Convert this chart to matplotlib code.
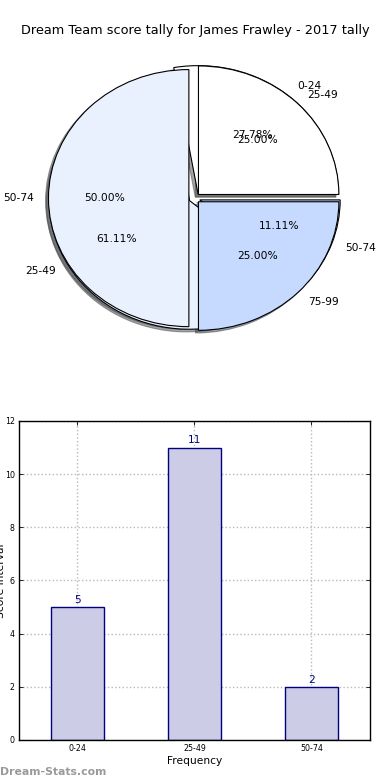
#!/usr/bin/env python3
"""Dream Team score tally: overlaid pies plus interval bar chart."""

import matplotlib

matplotlib.use("Agg")
import matplotlib.pyplot as plt


TITLE = "Dream Team score tally for James Frawley - 2017 tally"

# first pie: counts per score interval
PIE1_LABELS = ["0-24", "25-49", "50-74"]
PIE1_VALUES = [5, 11, 2]

# second pie drawn on top
PIE2_LABELS = ["25-49", "50-74", "75-99"]
PIE2_VALUES = [25, 50, 25]

PIE_COLORS = ["#ffffff", "#eaf1fe", "#c6d9ff"]

BAR_LABELS = ["0-24", "25-49", "50-74"]
BAR_VALUES = [5, 11, 2]
Y_TICKS = [0, 2, 4, 6, 8, 10, 12]


def draw_pie(ax, values, labels):
    ax.pie(
        values,
        labels=labels,
        colors=PIE_COLORS,
        explode=[0.04] * len(values),
        autopct="%1.2f%%",
        shadow={"ox": -0.015, "oy": -0.015},
        wedgeprops={"edgecolor": "black", "linewidth": 0.8},
        textprops={"fontsize": 7.7},
    )


def main():
    fig = plt.figure(figsize=(3.9, 7.8), dpi=100)

    ax_pie = fig.add_axes([0.0487, 0.54, 0.9, 0.412])
    draw_pie(ax_pie, PIE1_VALUES, PIE1_LABELS)
    draw_pie(ax_pie, PIE2_VALUES, PIE2_LABELS)
    ax_pie.set_aspect("auto")
    ax_pie.set_xlim(-1.25, 1.25)
    ax_pie.set_ylim(-1.25, 1.25)
    ax_pie.axis("off")

    fig.text(0.5, 1 - 34 / 780, TITLE, ha="center", va="baseline", fontsize=9.3)

    ax = fig.add_axes([0.0487, 0.0513, 0.9, 0.409])
    xs = list(range(len(BAR_VALUES)))
    bars = ax.bar(xs, BAR_VALUES, width=0.45, color="#ccccE6",
                  edgecolor="#000080", linewidth=1.0, zorder=2)
    for rect, val in zip(bars, BAR_VALUES):
        ax.annotate(str(val), (rect.get_x() + rect.get_width() / 2, rect.get_height()),
                    xytext=(0, 1.5), textcoords="offset points",
                    ha="center", va="bottom", color="#000080", fontsize=7.7)

    ax.set_xlim(-0.5, 2.5)
    ax.set_ylim(0, 12)
    ax.set_xticks(xs)
    ax.set_xticklabels(BAR_LABELS)
    ax.set_yticks(Y_TICKS)
    ax.tick_params(axis="both", direction="in", top=True, right=True,
                   labelsize=5.7, length=3, width=0.6, pad=3)
    ax.grid(True, color="#b8b8b8", linestyle=":", linewidth=1.0, zorder=0)
    ax.set_axisbelow(True)
    for spine in ax.spines.values():
        spine.set_linewidth(1.0)

    ax.set_xlabel("Frequency", fontsize=7.7, labelpad=2)
    ax.set_ylabel("Score Interval", fontsize=7.7)
    ax.yaxis.set_label_coords(-0.038, 0.5)

    fig.text(0.0, 1 - 775 / 780, "Dream-Stats.com", ha="left", va="baseline",
             fontsize=7.8, color="#9a9a9a", fontweight="bold")

    fig.savefig("out.png", dpi=100)
    plt.close(fig)


if __name__ == "__main__":
    main()
